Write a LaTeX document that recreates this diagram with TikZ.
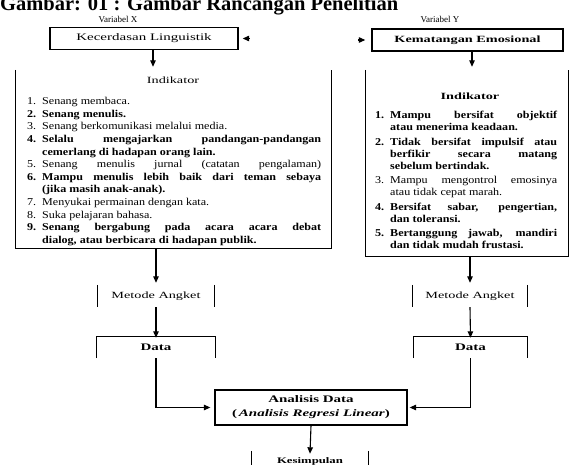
\documentclass[tikz,border=0pt]{standalone}
\usepackage{fontspec}
\setmainfont{Liberation Serif}
\newfontfamily\widefont{Liberation Serif}[FakeStretch=1.5]
\newfontfamily\listfont{Liberation Serif}[FakeStretch=1.15]
\usetikzlibrary{arrows.meta,calc}
\tikzset{
  arr/.style={-{Triangle[length=6.5pt,width=5.5pt]}, line width=1.1pt},
  titlebox/.style={draw, line width=1.4pt, minimum width=#1, minimum height=22pt, inner sep=0, font=\widefont\fontsize{10}{12}\selectfont},
  frame/.style={minimum width=#1, inner sep=0},
  side/.style={line width=1.3pt},
  lbl/.style={font=\fontsize{9}{11}\selectfont, inner sep=0},
  wlbl/.style={font=\widefont\fontsize{9.5}{11}\selectfont},
  wbold/.style={font=\widefont\bfseries\fontsize{10}{12}\selectfont},
  listbox/.style={anchor=north west, inner sep=0, text width=#1, align=justify},
}
\newcommand\nitem[2]{\par\parfillskip=0pt plus 1fil\hangindent=15pt\hangafter=1\noindent{\makebox[15pt][l]{#1}}{#2\par}}

\begin{document}
\begin{tikzpicture}[x=1pt,y=-1pt]
\useasboundingbox (0,0) rectangle (571,465);

\node[anchor=base west, inner sep=0, font=\bfseries\fontsize{20.5}{24}\selectfont] (title) at (0,11) {Gambar: 01 : Gambar Rancangan Penelitian};

\node[lbl] (vx) at (118,19) {Variabel X};
\node[lbl] (vy) at (440,19) {Variabel Y};

\node[titlebox=188pt] (bx) at (144,38.5) {Kecerdasan Linguistik};
\node[titlebox=191pt, font=\widefont\bfseries\fontsize{9.5}{12}\selectfont] (by) at (467.5,40) {Kematangan Emosional};

\draw[arr] ([xshift=11pt]bx.east) -- ([xshift=4pt]bx.east);
\draw[arr] ([xshift=-13pt]by.west) -- ([xshift=-6pt]by.west);

% indicator frames
\node[frame=315pt, minimum height=178pt] (il) at (173.5,159) {};
\draw[side] (il.north west) -- (il.south west) -- (il.south east) -- (il.north east);
\node[frame=202pt, minimum height=186pt] (ir) at (467,163) {};
\draw[side] (ir.north west) -- (ir.south west) -- (ir.south east) -- (ir.north east);

\draw[arr] ([xshift=9pt]bx.south) -- ([xshift=9pt,yshift=3pt]bx.south |- il.north);
\draw[arr] ([xshift=4.5pt]by.south) -- ([xshift=4.5pt,yshift=3pt]by.south |- ir.north);

\node[inner sep=0, wlbl] (ilt) at (173,80) {Indikator};
\node[inner sep=0, font=\widefont\bfseries\fontsize{9.5}{11}\selectfont] (irt) at (470,96) {Indikator};

\node[listbox=294pt, font=\listfont\fontsize{10.5}{12.6}\selectfont] (ll) at (27,92) {\setlength\parskip{0pt}%
\nitem{1.}{Senang membaca.}
\nitem{\bfseries 2.}{\bfseries Senang menulis.}
\nitem{3.}{Senang berkomunikasi melalui media.}
\nitem{\bfseries 4.}{\bfseries Selalu mengajarkan pandangan-pandangan\linebreak cemerlang di hadapan orang lain.}
\nitem{5.}{\parfillskip=0pt Senang menulis jurnal (catatan pengalaman)}
\nitem{\bfseries 6.}{\bfseries Mampu menulis lebih baik dari teman sebaya\linebreak (jika masih anak-anak).}
\nitem{7.}{Menyukai permainan dengan kata.}
\nitem{8.}{Suka pelajaran bahasa.}
\nitem{\bfseries 9.}{\bfseries Senang bergabung pada acara acara debat\linebreak dialog, atau berbicara di hadapan publik.}
};

\node[listbox=182pt, font=\listfont\fontsize{10.5}{12}\selectfont] (rl) at (375,104) {\setlength\parskip{2.5pt}%
\nitem{\bfseries 1.}{\bfseries Mampu bersifat objektif\linebreak atau menerima keadaan.}
\nitem{\bfseries 2.}{\bfseries Tidak bersifat impulsif atau\linebreak berfikir secara matang\linebreak sebelum bertindak.}
\nitem{3.}{Mampu mengontrol emosinya\linebreak atau tidak cepat marah.}
\nitem{\bfseries 4.}{\bfseries Bersifat sabar, pengertian,\linebreak dan toleransi.}
\nitem{\bfseries 5.}{\bfseries Bertanggung jawab, mandiri\linebreak dan tidak mudah frustasi.}
};

% left column
\node[frame=117pt, minimum height=22pt, wlbl] (ml) at (156,296) {Metode Angket};
\draw[line width=1.1pt] (ml.north west) -- (ml.south west) (ml.north east) -- (ml.south east);
\draw[arr] (il.south -| ml.north) -- ([yshift=2pt]ml.north);
\node[frame=118pt, minimum height=21pt, wbold] (dl) at (156,347.5) {Data};
\draw[side] (dl.south west) -- (dl.north west) -- (dl.north east) -- (dl.south east);
\draw[arr] (ml.south) -- ([yshift=-1pt]dl.north);

% right column
\node[frame=114pt, minimum height=22pt, wlbl] (mr) at (470,296) {Metode Angket};
\draw[line width=1.1pt] (mr.north west) -- (mr.south west) (mr.north east) -- (mr.south east);
\draw[arr] (ir.south -| mr.north) -- ([yshift=2pt]mr.north);
\node[frame=113pt, minimum height=21pt, wbold] (dr) at (470.5,347.5) {Data};
\draw[side] (dr.south west) -- (dr.north west) -- (dr.north east) -- (dr.south east);
\draw[arr] (mr.south) -- ([yshift=-1pt]dr.north);

% analysis
\node[draw, line width=1.3pt, minimum width=192pt, minimum height=35pt, inner sep=0, align=center, font=\widefont\bfseries\fontsize{10}{14}\selectfont] (an) at (311,407.5) {Analisis Data\\(\,{\itshape Analisis Regresi Linear})};
\draw[arr, shorten >=4pt] (dl.south) |- (an.west);
\draw[arr, shorten >=2pt] (dr.south) |- (an.east);

\node[frame=116pt, minimum height=20pt, font=\widefont\bfseries\fontsize{8.5}{11}\selectfont] (ks) at (310,461) {Kesimpulan};
\draw[side] (ks.north west) -- (ks.south west) (ks.north east) -- (ks.south east);
\draw[arr] (an.south) -- ([yshift=-3pt]ks.north);
\end{tikzpicture}
\end{document}
